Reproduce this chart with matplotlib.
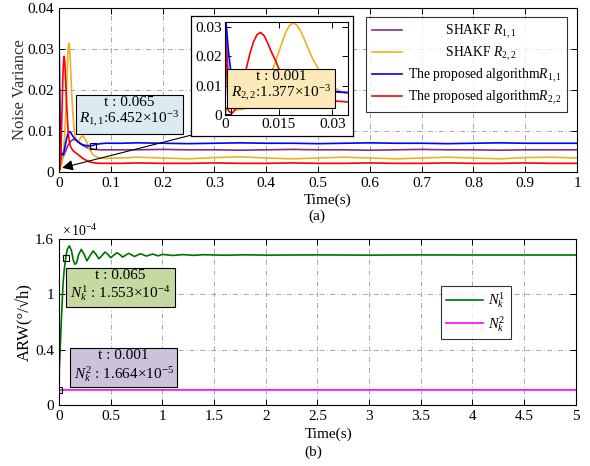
import numpy as np
import matplotlib
matplotlib.use("Agg")
from matplotlib import pyplot as plt

plt.rcParams['font.family'] = ['Liberation Serif', 'DejaVu Serif']
plt.rcParams['mathtext.fontset'] = 'custom'
plt.rcParams['mathtext.rm'] = 'Liberation Serif'
plt.rcParams['mathtext.it'] = 'Liberation Serif:italic'
plt.rcParams['mathtext.bf'] = 'Liberation Serif:bold'

# ---- (a) noise variance ----
t_tr = [0, 0.001, 0.002, 0.003, 0.004, 0.005, 0.006, 0.007, 0.008, 0.009,
        0.010, 0.011, 0.012, 0.013, 0.014, 0.015, 0.016, 0.017, 0.018, 0.019,
        0.020, 0.021, 0.022, 0.023, 0.024, 0.025, 0.026, 0.027, 0.028, 0.029,
        0.030, 0.032, 0.034, 0.036, 0.038, 0.040, 0.043, 0.046, 0.050, 0.055,
        0.060, 0.065, 0.070, 0.080, 0.090, 0.10]
t_ss = [0.12, 0.15, 0.2, 0.25, 0.3, 0.35, 0.4, 0.45, 0.5, 0.55, 0.6, 0.65,
        0.7, 0.75, 0.8, 0.85, 0.9, 0.95, 1.0]

shakf_r11_tr = [0.037, 0.012, 0.005, 0.0035, 0.0032, 0.0032, 0.0033, 0.0035, 0.0037, 0.0040,
                0.0043, 0.0046, 0.0049, 0.0052, 0.0055, 0.0058, 0.0061, 0.0064, 0.0066, 0.0068,
                0.0070, 0.0072, 0.0074, 0.0075, 0.0076, 0.0077, 0.0078, 0.0079, 0.0079, 0.0079,
                0.0079, 0.0078, 0.0077, 0.0075, 0.0073, 0.0071, 0.0068, 0.0065, 0.0062, 0.0059,
                0.0057, 0.0056, 0.0055, 0.0054, 0.0054, 0.0054]
shakf_r11_ss = [0.0054, 0.0054, 0.0055, 0.0054, 0.0054, 0.0053, 0.0054, 0.0055, 0.0054, 0.0054,
                0.0053, 0.0054, 0.0055, 0.0054, 0.0054, 0.0053, 0.0054, 0.0054, 0.0054]

shakf_r22_tr = [0.0, 0.004, 0.0025, 0.0018, 0.0018, 0.0020, 0.0024, 0.0031, 0.0041, 0.0054,
                0.0070, 0.0090, 0.0115, 0.0145, 0.0178, 0.0213, 0.0250, 0.0283, 0.0305, 0.0314,
                0.0308, 0.0290, 0.0264, 0.0234, 0.0205, 0.0180, 0.0160, 0.0140, 0.0122, 0.0108,
                0.0097, 0.0083, 0.0074, 0.0072, 0.0075, 0.0080, 0.0086, 0.0088, 0.0082, 0.0068,
                0.0053, 0.0043, 0.0038, 0.0034, 0.0033, 0.0034]
shakf_r22_ss = [0.0034, 0.0036, 0.0034, 0.0032, 0.0035, 0.0037, 0.0034, 0.0032, 0.0034, 0.0036,
                0.0034, 0.0032, 0.0034, 0.0036, 0.0034, 0.0032, 0.0035, 0.0036, 0.0034]

prop_r11_tr = [0.037, 0.022, 0.0115, 0.0065, 0.0050, 0.0044, 0.0041, 0.0041, 0.0043, 0.0047,
               0.0052, 0.0058, 0.0064, 0.0071, 0.0077, 0.0083, 0.0088, 0.0092, 0.0095, 0.0097,
               0.0098, 0.0098, 0.0097, 0.0095, 0.0093, 0.0091, 0.0089, 0.0087, 0.0085, 0.0083,
               0.0082, 0.0079, 0.0077, 0.0074, 0.0072, 0.0070, 0.0068, 0.0066, 0.0065, 0.0064,
               0.0064, 0.00645, 0.0067, 0.0069, 0.0070, 0.0070]
prop_r11_ss = [0.0070, 0.0071, 0.0070, 0.0069, 0.0070, 0.0071, 0.0070, 0.0070, 0.0069, 0.0070,
               0.0071, 0.0070, 0.0070, 0.0069, 0.0070, 0.0071, 0.0070, 0.0070, 0.0070]

prop_r22_tr = [0.031, 0.0014, 0.0006, 0.002, 0.006, 0.011, 0.016, 0.021, 0.025, 0.0275,
               0.0282, 0.027, 0.0245, 0.0215, 0.019, 0.016, 0.0135, 0.0113, 0.0096, 0.0083,
               0.0074, 0.0068, 0.0063, 0.0060, 0.0058, 0.0056, 0.0054, 0.0052, 0.0051, 0.0050,
               0.0049, 0.0047, 0.0045, 0.0043, 0.0041, 0.0039, 0.0036, 0.0033, 0.0030, 0.0027,
               0.0024, 0.0023, 0.0022, 0.0021, 0.0021, 0.0021]
prop_r22_ss = [0.0021, 0.0022, 0.0021, 0.0021, 0.0022, 0.0021, 0.0021, 0.0022, 0.0021, 0.0021,
               0.0022, 0.0021, 0.0021, 0.0022, 0.0021, 0.0021, 0.0022, 0.0021, 0.0021]

# ---- (b) ARW (units of 1e-4, tick labels as printed) ----
t_n1 = [0, 0.003, 0.01, 0.02, 0.03, 0.04, 0.05, 0.065, 0.08, 0.10, 0.12, 0.14, 0.155, 0.17,
        0.19, 0.215, 0.24, 0.27, 0.30, 0.33, 0.36, 0.385, 0.415, 0.445, 0.475, 0.50, 0.53,
        0.56, 0.59, 0.615, 0.645, 0.675, 0.705, 0.73, 0.76, 0.79, 0.82, 0.845, 0.875, 0.905,
        0.935, 0.96, 1.0, 1.1, 1.2, 1.3, 1.4, 1.6, 1.8, 2.0, 2.5, 3.0, 3.5, 4.0, 4.5, 5.0]
n1 = [0.0, 0.35, 0.5, 0.75, 0.98, 1.18, 1.30, 1.42, 1.50, 1.535, 1.49, 1.39, 1.356, 1.37,
      1.45, 1.50, 1.46, 1.39, 1.44, 1.485, 1.45, 1.41, 1.44, 1.475, 1.45, 1.42, 1.445,
      1.468, 1.45, 1.426, 1.445, 1.462, 1.446, 1.432, 1.446, 1.458, 1.446, 1.436, 1.446, 1.455,
      1.446, 1.438, 1.452, 1.442, 1.450, 1.443, 1.449, 1.444, 1.448, 1.445, 1.447, 1.445, 1.447,
      1.446, 1.446, 1.446]
t_n2 = [0, 0.001, 1, 2, 3, 4, 5]
n2 = [0.0, 0.145, 0.145, 0.145, 0.145, 0.145, 0.145]

c_pur = '#7E2F8E'
c_yel = '#EDB120'
c_blu = '#0000FF'
c_red = '#FF0000'
c_grn = '#007000'
c_mag = '#FF00FF'

grid_kw = dict(color='#9a9a9a', linestyle=(0, (6, 3, 1, 3)), linewidth=0.6)

fig = plt.figure(figsize=(5.9, 4.66), dpi=100)

def style(ax):
    ax.tick_params(direction='in', top=True, right=True, labelsize=11, length=4, width=0.7)
    for s in ax.spines.values():
        s.set_linewidth(0.8)

# top panel
ax1 = fig.add_axes([0.1, 0.631, 0.878, 0.352])
ta = t_tr + t_ss
ax1.plot(ta, shakf_r11_tr + shakf_r11_ss, color=c_pur, lw=1.2, label='SHAKF $R_{1,1}$')
ax1.plot(ta, shakf_r22_tr + shakf_r22_ss, color=c_yel, lw=1.2, label='SHAKF $R_{2,2}$')
ax1.plot(ta, prop_r11_tr + prop_r11_ss, color=c_blu, lw=1.2, label='The proposed algorithm$R_{1,1}$')
ax1.plot(ta, prop_r22_tr + prop_r22_ss, color=c_red, lw=1.2, label='The proposed algorithm$R_{2,2}$')
ax1.set_xlim(0, 1)
ax1.set_ylim(0, 0.04)
xt = np.round(np.arange(0, 1.01, 0.1), 1)
ax1.set_xticks(xt)
ax1.set_xticklabels(['0'] + ['%.1f' % v for v in xt[1:-1]] + ['1'])
ax1.set_yticks([0, 0.01, 0.02, 0.03, 0.04])
ax1.set_yticklabels(['0', '0.01', '0.02', '0.03', '0.04'])
ax1.grid(True, **grid_kw)
style(ax1)
ax1.text(-0.075, 0.5, 'Noise Variance', transform=ax1.transAxes, rotation=90,
         ha='center', va='center', fontsize=12, color='#333333')
ax1.text(0.519, -0.17, 'Time(s)', transform=ax1.transAxes, ha='center', va='center', fontsize=11)
ax1.text(0.498, -0.268, '(a)', transform=ax1.transAxes, ha='center', va='center', fontsize=11)

leg = ax1.legend(loc='upper left', bbox_to_anchor=(0.593, 0.942), fontsize=9.8,
                 frameon=True, fancybox=False, edgecolor='black', handlelength=2.2,
                 borderpad=0.4, labelspacing=0.28, handletextpad=0.45, borderaxespad=0)
leg.get_frame().set_linewidth(0.8)
leg.set_zorder(10)
pad = '           '
leg.get_texts()[0].set_text(pad + 'SHAKF $R_{1,1}$')
leg.get_texts()[1].set_text(pad + 'SHAKF $R_{2,2}$')

ax1.plot([0.065], [0.00645], marker='s', ms=5, mfc='none', mec='k', mew=0.8, zorder=6)
ax1.text(0.136, 0.0144, 't : 0.065\n$R_{1,1}$:6.452×$10^{-3}$', ha='center', va='center',
         fontsize=11, multialignment='center', linespacing=1.1, zorder=7,
         bbox=dict(boxstyle='square,pad=0.25', facecolor='#dcebf1', edgecolor='black', lw=0.8))

ax1.annotate('', xy=(0.006, 0.001), xycoords='data', xytext=(0.324, 0.71),
             textcoords='figure fraction', annotation_clip=False, zorder=8,
             arrowprops=dict(arrowstyle='-|>', color='k', lw=0.8, mutation_scale=16,
                             shrinkA=0, shrinkB=0))

# inset background and inset axes
bg = fig.add_axes([0.324, 0.708, 0.275, 0.258], zorder=5)
bg.set_xticks([])
bg.set_yticks([])
bg.set_facecolor('white')
for s in bg.spines.values():
    s.set_linewidth(0.9)

ins = fig.add_axes([0.381, 0.753, 0.208, 0.2], zorder=6)
ins.plot(ta, shakf_r11_tr + shakf_r11_ss, color=c_pur, lw=1.2)
ins.plot(ta, shakf_r22_tr + shakf_r22_ss, color=c_yel, lw=1.2)
ins.plot(ta, prop_r11_tr + prop_r11_ss, color=c_blu, lw=1.2)
ins.plot(ta, prop_r22_tr + prop_r22_ss, color=c_red, lw=1.2)
ins.set_xlim(0, 0.0342)
ins.set_ylim(0, 0.0318)
ins.set_xticks([0, 0.015, 0.03])
ins.set_xticklabels(['0', '0.015', '0.03'])
ins.set_yticks([0, 0.01, 0.02, 0.03])
ins.set_yticklabels(['0', '0.01', '0.02', '0.03'])
style(ins)
ins.tick_params(pad=2)
ins.plot([0.0008], [0.00138], marker='s', ms=4, mfc='none', mec='k', mew=0.8, zorder=6)
ins.text(0.459, 0.30, 't : 0.001\n$R_{2,2}$:1.377×$10^{-3}$', transform=ins.transAxes,
         ha='center', va='center', fontsize=11, multialignment='center', linespacing=1.1,
         zorder=7, bbox=dict(boxstyle='square,pad=0.25', facecolor='#fbe9b9',
                             edgecolor='black', lw=0.8))

# bottom panel
ax2 = fig.add_axes([0.1, 0.131, 0.876, 0.356])
ax2.plot(t_n1, n1, color=c_grn, lw=1.2, label='$N_k^1$')
ax2.plot(t_n2, n2, color=c_mag, lw=1.2, label='$N_k^2$')
ax2.set_xlim(0, 5)
ax2.set_ylim(0, 1.6)
xt2 = np.arange(0, 5.01, 0.5)
ax2.set_xticks(xt2)
ax2.set_xticklabels(['%g' % v for v in xt2])
ax2.set_yticks([0, 1.6 / 3, 3.2 / 3, 1.6])
ax2.set_yticklabels(['0', '0.4', '1', '1.6'])
ax2.grid(True, **grid_kw)
style(ax2)
ax2.text(0.005, 1.0, r'$\times\,10^{-4}$', transform=ax2.transAxes, ha='left', va='bottom',
         fontsize=10)
ax2.text(-0.066, 0.5, 'ARW(°/√h)', transform=ax2.transAxes, rotation=90,
         ha='center', va='center', fontsize=12)
ax2.text(0.522, -0.175, 'Time(s)', transform=ax2.transAxes, ha='center', va='center', fontsize=11)
ax2.text(0.493, -0.283, '(b)', transform=ax2.transAxes, ha='center', va='center', fontsize=11)

leg2 = ax2.legend(loc='upper left', bbox_to_anchor=(0.739, 0.72), fontsize=10.5,
                  frameon=True, fancybox=False, edgecolor='black', handlelength=2.5,
                  borderpad=0.35, labelspacing=0.25, handletextpad=0.4, borderaxespad=0)
leg2.get_frame().set_linewidth(0.8)

ax2.plot([0.065], [1.42], marker='s', ms=5, mfc='none', mec='k', mew=0.8, zorder=6)
ax2.plot([0.001], [0.145], marker='s', ms=5, mfc='none', mec='k', mew=0.8, zorder=6)
ax2.text(0.119, 0.717, 't : 0.065\n$N_k^1$ : 1.553×$10^{-4}$', transform=ax2.transAxes,
         ha='center', va='center', fontsize=11, multialignment='center', linespacing=1.1,
         zorder=7, bbox=dict(boxstyle='square,pad=0.25', facecolor='#c6d9a1',
                             edgecolor='black', lw=0.8))
ax2.text(0.125, 0.232, 't : 0.001\n$N_k^2$ : 1.664×$10^{-5}$', transform=ax2.transAxes,
         ha='center', va='center', fontsize=11, multialignment='center', linespacing=1.1,
         zorder=7, bbox=dict(boxstyle='square,pad=0.25', facecolor='#cdc2db',
                             edgecolor='black', lw=0.8))

fig.savefig('out.png', dpi=100)
